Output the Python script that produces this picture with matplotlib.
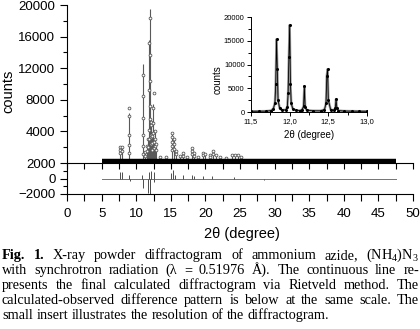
import matplotlib
matplotlib.use('Agg')
import matplotlib.pyplot as plt
from matplotlib.ticker import MultipleLocator, FixedLocator, NullFormatter

plt.rcParams['font.family'] = ['Liberation Sans', 'DejaVu Sans']
plt.rcParams['mathtext.fontset'] = 'custom'
plt.rcParams['mathtext.rm'] = 'Liberation Serif'

# ---- data ----
# calculated pattern: peak positions (2theta) and peak tops (counts)
calc_x = [7.66, 7.90, 9.00, 10.95, 11.25, 11.55, 11.72, 11.85, 12.00, 12.10, 12.18,
          12.30, 12.48, 12.60, 12.75, 12.90, 13.50, 14.30, 15.20, 15.40, 15.70, 16.30,
          16.80, 17.30, 18.00, 18.30, 19.00, 19.70, 20.00, 20.60, 21.10, 21.50, 22.10,
          23.00, 23.90, 24.30, 24.70, 25.10, 26.50, 27.50, 28.90, 30.00, 31.00, 32.00,
          33.00, 34.00]
calc_y = [2000, 1900, 6300, 12500, 1500, 2300, 3100, 15600, 19500, 5000, 5400,
          3500, 7500, 2800, 4100, 2500, 800, 650, 3700, 2900, 1400, 850,
          1200, 650, 1800, 1200, 650, 1200, 1050, 950, 1400, 950, 750,
          600, 950, 1000, 1000, 750, 450, 420, 450, 450, 480, 450,
          500, 450]
background = 250

# observed points standing above the dense baseline band
obs_x = [7.66, 7.66, 7.66, 7.90, 7.90,
         9.00, 9.00, 9.00, 9.00, 9.00,
         10.95, 10.95, 10.95, 10.95, 10.95, 10.95,
         11.25, 11.30, 11.55, 11.55, 11.72, 11.72,
         11.85, 11.85, 11.85, 11.85,
         12.00, 12.00, 12.00, 12.00, 12.00,
         12.10, 12.10, 12.18, 12.18, 12.18, 12.30, 12.30, 12.30,
         12.55, 12.48, 12.48, 12.48, 12.60, 12.60, 12.75, 12.75, 12.75, 12.90, 12.90,
         13.50, 14.30,
         15.20, 15.20, 15.20, 15.20, 15.20, 15.40, 15.40, 15.40, 15.70, 15.70,
         16.30, 16.80, 16.80, 17.30,
         18.00, 18.00, 18.00, 18.30, 18.30, 19.00, 19.70, 19.70, 20.00,
         20.60, 20.60, 21.10, 21.10, 21.50, 22.10, 23.00, 23.90, 24.30, 24.70, 25.10]
obs_y = [2060, 1650, 1250, 2000, 1500,
         6900, 5900, 3500, 2300, 1300,
         11200, 8500, 5700, 3500, 2100, 1200,
         1400, 900, 2200, 1500, 3000, 2000,
         15200, 9200, 4200, 3000,
         18300, 13700, 10400, 7200, 5600,
         4800, 3300, 5200, 3600, 2400, 3400, 2500, 1700,
         8900, 7000, 5100, 3800, 2700, 1900, 4000, 3100, 2200, 2400, 1600,
         800, 700,
         3850, 3300, 2700, 2100, 1600, 3000, 2400, 1800, 1500, 1100,
         900, 1300, 900, 700,
         1900, 1500, 1100, 1300, 900, 700, 1300, 1000, 1100,
         1000, 700, 1500, 1100, 1000, 800, 650, 1000, 1050, 1050, 800]

# range covered by the measurement
scan_x = [5.0, 47.5]

# difference (calc - obs)
diff_x = [7.66, 8.00, 8.90, 9.05, 10.90, 11.00, 11.75, 11.85, 12.00, 12.05, 12.10,
          12.50, 12.60, 15.10, 15.30, 15.60, 16.80, 18.00, 18.30, 19.70, 21.00,
          24.20, 28.50]
diff_y = [900, 800, 400, -300, 500, -1200, -1900, 900, -2200, -2000, 1000,
          800, -500, 700, 1100, 500, 400, 500, 300, 300, 300,
          200, -200]

# insert: high resolution part of the pattern
ins_x = [11.50, 11.60, 11.70, 11.76, 11.79, 11.81, 11.82, 11.83, 11.84, 11.85, 11.87,
         11.90, 11.95, 11.97, 11.98, 11.99, 12.00, 12.01, 12.02, 12.04, 12.08, 12.13,
         12.16, 12.18, 12.19, 12.20, 12.22, 12.30, 12.40, 12.45, 12.47, 12.48, 12.49,
         12.50, 12.53, 12.57, 12.59, 12.60, 12.61, 12.63, 12.70, 12.80, 12.90, 13.00]
ins_y = [150, 160, 180, 300, 700, 2000, 6000, 15300, 9000, 2500, 800,
         400, 450, 1100, 4000, 11500, 18300, 6000, 1800, 700, 350, 300,
         450, 1200, 5400, 1000, 400, 250, 250, 500, 1800, 7500, 9000,
         2500, 500, 350, 800, 2700, 800, 300, 200, 180, 160, 150]
ins_xticklabels = ['11,5', '12,0', '12,5', '13,0']

caption = [
    ['Fig.', '1.', 'X-ray', 'powder', 'diffractogram', 'of', 'ammonium', 'azide,',
     '(NH$_\\mathregular{4}$)N$_\\mathregular{3}$'],
    'with synchrotron radiation (λ = 0.51976 Å). The continuous line re-'.split(),
    'presents the final calculated diffractogram via Rietveld method. The'.split(),
    'calculated-observed difference pattern is below at the same scale. The'.split(),
    'small insert illustrates the resolution of the diffractogram.'.split(),
]

# ---- figure ----
W, H = 420, 329
fig = plt.figure(figsize=(W / 100, H / 100), dpi=100)

def box(x0, y0, x1, y1):
    return [x0 / W, 1 - y1 / H, (x1 - x0) / W, (y1 - y0) / H]

ax = fig.add_axes(box(67, 5, 413, 163))
axd = fig.add_axes(box(67, 163, 413, 194))
axi = fig.add_axes(box(251, 17, 367, 112))

tick_kw = dict(direction='out', width=0.8, labelsize=9.5, color='black')

# main panel
ax.vlines(calc_x, background, calc_y, color='0.35', lw=0.8, zorder=2)
ax.scatter(obs_x, obs_y, s=4, facecolors='white', edgecolors='0.35', linewidths=0.6, zorder=3)
ax.plot(scan_x, [background, background], color='black', lw=3.2, solid_capstyle='butt', zorder=4)
ax.set_xlim(0, 50)
ax.set_ylim(0, 20000)
ax.yaxis.set_major_locator(FixedLocator([4000, 8000, 12000, 16000, 20000]))
ax.yaxis.set_minor_locator(FixedLocator([2000, 6000, 10000, 14000, 18000]))
ax.xaxis.set_major_locator(MultipleLocator(5))
ax.xaxis.set_minor_locator(MultipleLocator(2.5))
ax.xaxis.set_major_formatter(NullFormatter())
ax.tick_params(which='major', length=5, **tick_kw)
ax.tick_params(which='minor', length=3, **tick_kw)
ax.tick_params(axis='x', which='both', length=4)
for s in ['top', 'right']:
    ax.spines[s].set_visible(False)
for s in ['left', 'bottom']:
    ax.spines[s].set_linewidth(0.8)
ax.patch.set_alpha(0)

# difference panel
axd.plot(scan_x, [0, 0], color='0.45', lw=0.7)
axd.vlines(diff_x, 0, diff_y, color='0.3', lw=0.7)
axd.set_xlim(0, 50)
axd.set_ylim(-2000, 2000)
axd.yaxis.set_major_locator(FixedLocator([-2000, 0, 2000]))
axd.yaxis.set_minor_locator(FixedLocator([-1000, 1000]))
axd.xaxis.set_major_locator(MultipleLocator(5))
axd.xaxis.set_minor_locator(MultipleLocator(2.5))
axd.tick_params(which='major', length=5, pad=3, **tick_kw)
axd.tick_params(which='minor', length=3, **tick_kw)
axd.tick_params(axis='x', which='both', length=5, pad=5)
for s in ['top', 'right']:
    axd.spines[s].set_visible(False)
for s in ['left', 'bottom']:
    axd.spines[s].set_linewidth(0.8)
axd.patch.set_alpha(0)

fig.text(8 / W, 1 - 91 / H, 'counts', rotation=90, ha='center', va='center', fontsize=10.5)
fig.text(242 / W, 1 - 234 / H, '2θ (degree)', ha='center', va='center', fontsize=10.5)

# insert
axi.plot(ins_x, ins_y, color='0.6', lw=1.8, zorder=2)
axi.plot(ins_x, ins_y, color='black', lw=0.6, marker='o', ms=1.2, zorder=3)
axi.set_xlim(11.5, 13.0)
axi.set_ylim(0, 20000)
axi.set_xticks([11.5, 12.0, 12.5, 13.0])
axi.set_xticklabels(ins_xticklabels)
axi.xaxis.set_minor_locator(MultipleLocator(0.25))
axi.yaxis.set_major_locator(MultipleLocator(5000))
axi.yaxis.set_minor_locator(MultipleLocator(2500))
axi.tick_params(which='major', length=3, width=0.7, labelsize=5.5, pad=1.5)
axi.tick_params(which='minor', length=2, width=0.7)
for s in ['top', 'right']:
    axi.spines[s].set_visible(False)
for s in ['left', 'bottom']:
    axi.spines[s].set_linewidth(0.7)
axi.patch.set_alpha(0)
fig.text(218 / W, 1 - 80 / H, 'counts', rotation=90, ha='center', va='center', fontsize=7)
fig.text(309 / W, 1 - 135 / H, '2θ (degree)', ha='center', va='center', fontsize=7)

# caption, justified line by line
renderer = fig.canvas.get_renderer()
cap_size = 10.3
left, right = 2, 419
baselines = [259, 274, 289, 304, 319]
probe = fig.text(0, 0, 'a a', fontsize=cap_size, family='Liberation Serif')
probe2 = fig.text(0, 0, 'aa', fontsize=cap_size, family='Liberation Serif')
space = probe.get_window_extent(renderer).width - probe2.get_window_extent(renderer).width
probe.remove()
probe2.remove()
for li, words in enumerate(caption):
    y = 1 - baselines[li] / H
    items = []
    for wi, w in enumerate(words):
        bold = (li == 0 and wi < 2)
        t = fig.text(0, y, w, fontsize=cap_size, family='Liberation Serif',
                     weight='bold' if bold else 'normal', va='baseline', ha='left')
        items.append((t, t.get_window_extent(renderer).width))
    total = sum(wd for _, wd in items)
    if li < len(caption) - 1:
        gap = (right - left - total) / (len(items) - 1)
    else:
        gap = space
    x = left
    for t, wd in items:
        t.set_x(x / W)
        x += wd + gap

fig.savefig('out.png', dpi=100)
